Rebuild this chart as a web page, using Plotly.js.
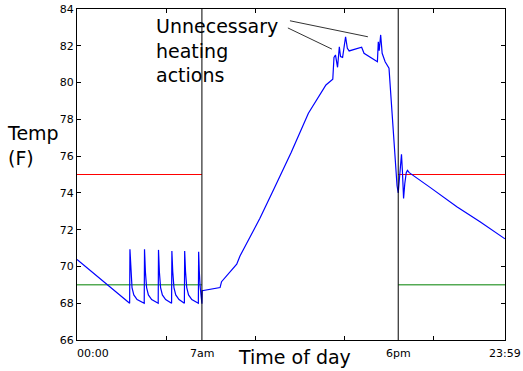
<!DOCTYPE html>
<html>
<head>
<meta charset="utf-8">
<script src="https://cdn.plot.ly/plotly-3.0.1.min.js"></script>
<style>html,body{margin:0;padding:0;background:#fff;}#chart{width:523px;height:371px;}</style>
</head>
<body>
<div id="chart"></div>
<script>
// Time of day in minutes after midnight, temperature in F
const timeMin = [
  0, 177,
  177, 178, 181, 185, 191, 202,
  226, 227, 230, 234, 240, 251,
  273, 274, 277, 281, 287, 298,
  318, 319, 322, 326, 332, 343,
  361, 362, 365, 369, 375, 386,
  408, 409, 411, 414, 417, 420,
  421, 481, 486, 537, 548, 598, 615, 662, 720, 778, 837, 860,
  864, 869, 873, 876, 882, 886, 893, 903, 909, 915, 957, 965,
  1010, 1013, 1016, 1021, 1026, 1036, 1049, 1060, 1071, 1076, 1080,
  1083, 1087, 1091, 1094, 1098, 1102, 1107, 1111, 1117,
  1187, 1277, 1355, 1439
];
const tempF = [
  70.38, 68.0,
  68.0, 70.93, 69.7, 68.85, 68.45, 68.2,
  68.0, 70.93, 69.7, 68.85, 68.45, 68.2,
  68.0, 70.9, 69.7, 68.85, 68.45, 68.2,
  68.0, 70.84, 69.7, 68.85, 68.45, 68.2,
  68.0, 70.84, 69.7, 68.85, 68.45, 68.2,
  68.0, 70.8, 69.8, 68.9, 68.4, 67.97,
  68.68, 68.85, 69.17, 70.12, 70.57, 72.04, 72.62, 74.21, 76.2, 78.33, 79.87, 80.18,
  81.37, 81.5, 80.9, 80.83, 81.95, 81.41, 81.37, 82.49, 81.86, 81.72, 81.92, 81.59,
  81.13, 82.22, 81.73, 82.59, 81.59, 81.13, 80.78, 78.1, 75.42, 74.4, 74.0,
  74.6, 75.8, 76.1, 75.2, 73.7, 74.5, 75.1, 75.22, 75.1,
  74.3, 73.25, 72.43, 71.5
];

// Set points (upper / lower) for the unoccupied periods
const awayPeriods = [[0, 420], [1080, 1439]];
const upperSet = 75;
const lowerSet = 69;
const schedule = [420, 1080];       // 7am and 6pm boundaries
const yTicks = [66, 68, 70, 72, 74, 76, 78, 80, 82, 84];
const xTickMarks = [0, 300, 600, 900, 1200];
const xLabels = ["00:00", "7am", "6pm", "23:59"];
const xLabelPos = [0, 420, 1080, 1439];
// annotation pointer lines [x0, y0, x1, y1]
const pointers = [[716, 83.36, 978, 82.49], [709, 82.97, 857, 81.82]];

const traces = [];
awayPeriods.forEach(p => {
  traces.push({x: p, y: [upperSet, upperSet], mode: 'lines', line: {color: '#ff0000', width: 1}, hoverinfo: 'skip'});
  traces.push({x: p, y: [lowerSet, lowerSet], mode: 'lines', line: {color: '#008000', width: 1}, hoverinfo: 'skip'});
});
traces.push({x: timeMin, y: tempF, mode: 'lines', line: {color: '#0000ff', width: 1.2}});

const shapes = schedule.map(t => ({type: 'line', xref: 'x', yref: 'paper', x0: t, x1: t, y0: 0, y1: 1, line: {color: '#000', width: 1}}));
pointers.forEach(p => shapes.push({type: 'line', xref: 'x', yref: 'y', x0: p[0], y0: p[1], x1: p[2], y1: p[3], line: {color: '#333', width: 1}}));

const font = 'DejaVu Sans, sans-serif';
const annotations = xLabels.map((t, i) => ({
  text: t, x: xLabelPos[i], xref: 'x', y: 0, yref: 'paper', yanchor: 'middle', yshift: -13,
  xanchor: i === 0 ? 'left' : 'center', xshift: i === 0 ? -2 : 0,
  showarrow: false, font: {family: font, size: 11, color: '#000'}
}));
annotations.push({text: 'Time of day', x: 0.508, xref: 'paper', y: 0, yref: 'paper', yanchor: 'middle', yshift: -17,
  showarrow: false, font: {family: font, size: 19, color: '#000'}});
annotations.push({text: 'Temp<br>(F)', x: 0, xref: 'paper', xshift: -72, xanchor: 'left', align: 'left',
  y: 77, yref: 'y', yanchor: 'middle', yshift: -8, showarrow: false, font: {family: font, size: 19, color: '#000'}});
annotations.push({text: 'Unnecessary<br>heating<br>actions', x: 269, xref: 'x', xanchor: 'left', xshift: -3, align: 'left',
  y: 81.93, yref: 'y', yanchor: 'middle', yshift: -3, showarrow: false, font: {family: font, size: 19, color: '#000'}});

const layout = {
  width: 523, height: 371,
  margin: {l: 77, r: 18, t: 9, b: 31},
  paper_bgcolor: '#fff', plot_bgcolor: '#fff',
  showlegend: false,
  font: {family: font, size: 11, color: '#000'},
  xaxis: {range: [0, 1439], tickvals: xTickMarks, ticktext: xTickMarks.map(() => ''),
    ticks: 'inside', ticklen: 4, tickcolor: '#000', mirror: 'ticks', showline: true, linecolor: '#000', linewidth: 1,
    showgrid: false, zeroline: false, fixedrange: true},
  yaxis: {range: [66, 84], tickvals: yTicks, ticks: 'inside', ticklen: 4, tickcolor: '#000',
    mirror: 'ticks', showline: true, linecolor: '#000', linewidth: 1, showgrid: false, zeroline: false,
    tickfont: {family: font, size: 11, color: '#000'}},
  shapes: shapes,
  annotations: annotations
};
Plotly.newPlot('chart', traces, layout, {displayModeBar: false, staticPlot: true});
</script>
</body>
</html>
